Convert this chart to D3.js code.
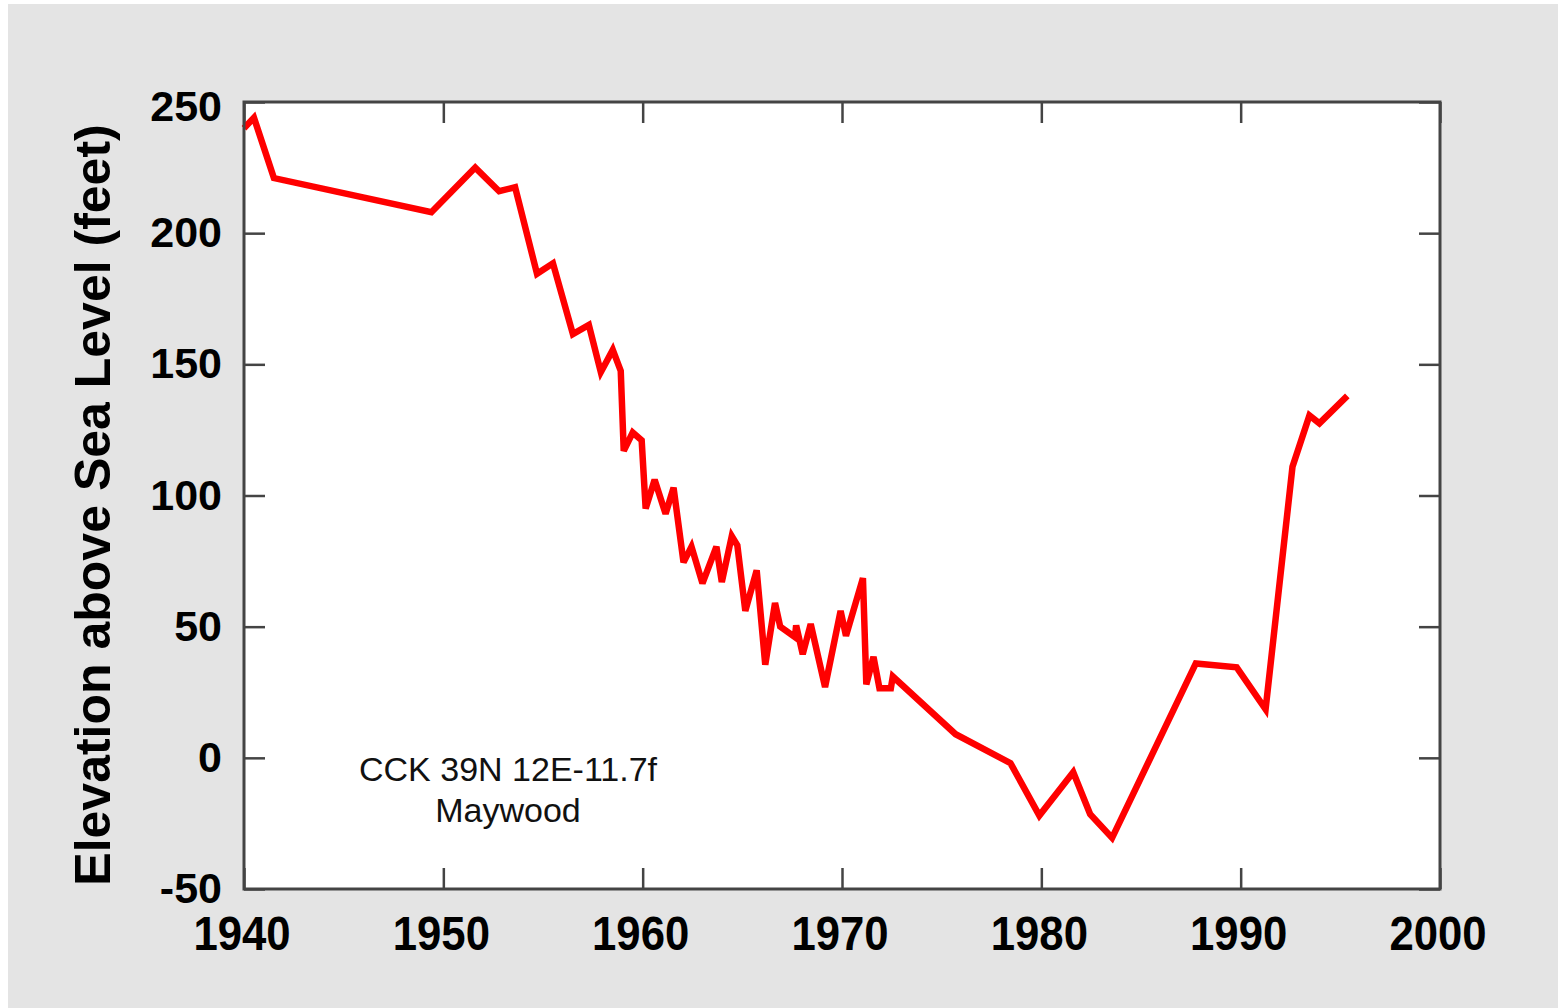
<!DOCTYPE html>
<html>
<head>
<meta charset="utf-8">
<script src="https://cdn.jsdelivr.net/npm/d3@7"></script>
<style>
  html, body { margin: 0; padding: 0; background: #fff; }
  #chart { width: 1558px; height: 1008px; }
</style>
</head>
<body>
<div id="chart"></div>
<script>
// well hydrograph
const years = [
  1940.0, 1940.5, 1941.5, 1949.4, 1951.6, 1952.8, 1953.6, 1954.7, 1955.5,
  1956.5, 1957.3, 1957.9, 1958.5, 1958.9, 1959.05, 1959.5, 1959.95, 1960.15,
  1960.6, 1961.15, 1961.55, 1962.05, 1962.45, 1963.0, 1963.7, 1963.97, 1964.47,
  1964.75, 1965.15, 1965.72, 1966.15, 1966.64, 1966.9, 1967.64, 1967.7, 1968.03,
  1968.43, 1969.15, 1969.93, 1970.2, 1971.05, 1971.22, 1971.58, 1971.88, 1972.45,
  1972.55, 1975.7, 1978.45, 1979.9, 1981.6, 1982.45, 1983.55, 1987.75, 1989.8,
  1991.25, 1992.6, 1993.45, 1993.95, 1995.35
];
const elevations = [
  240, 244, 221, 208, 225, 216, 217.5, 184.5, 188.5,
  161.5, 165, 147, 155.5, 147.5, 117, 124, 121, 95,
  106, 93, 103, 74.5, 80.5, 66.5, 80.5, 67, 84.5,
  81, 56, 71.5, 35.5, 59, 50, 46, 50.5, 39.5,
  51, 27, 56, 46.5, 68.5, 28, 38.5, 26.5, 26.5,
  31, 9, -2, -22, -5.5, -21.5, -30.5, 36, 34.5,
  18.5, 111, 130.5, 127.5, 138
];
const xTicks = [1940, 1950, 1960, 1970, 1980, 1990, 2000];
const yTicks = [-50, 0, 50, 100, 150, 200, 250];
const yTitle = "Elevation above Sea Level (feet)";
const noteLines = ["CCK 39N 12E-11.7f", "Maywood"];

const data = years.map((y, i) => ({year: y, elev: elevations[i]}));

const width = 1558, height = 1008;
const plot = {left: 244, right: 1440, top: 102, bottom: 889};

const svg = d3.select("#chart")
  .append("svg")
  .attr("width", width)
  .attr("height", height);

// grey page, white plot box
svg.append("rect")
  .attr("x", 8).attr("y", 4)
  .attr("width", width - 8).attr("height", height - 4)
  .attr("fill", "#e4e4e4");

svg.append("rect")
  .attr("x", plot.left).attr("y", plot.top)
  .attr("width", plot.right - plot.left)
  .attr("height", plot.bottom - plot.top)
  .attr("fill", "#fff");

const x = d3.scaleLinear().domain([1940, 2000]).range([plot.left, plot.right]);
const y = d3.scaleLinear().domain([-50, 250]).range([plot.bottom, plot.top]);

const tickLen = 21;
const tickColor = "#444";

// inner ticks on all four sides
const axisStyle = g => {
  g.select(".domain").remove();
  g.selectAll(".tick line").attr("stroke", tickColor).attr("stroke-width", 2.5);
};

svg.append("g")
  .attr("transform", `translate(0, ${plot.bottom})`)
  .call(d3.axisBottom(x).tickValues(xTicks).tickSize(-tickLen).tickFormat(""))
  .call(axisStyle);

svg.append("g")
  .attr("transform", `translate(0, ${plot.top})`)
  .call(d3.axisTop(x).tickValues(xTicks).tickSize(-tickLen).tickFormat(""))
  .call(axisStyle);

svg.append("g")
  .attr("transform", `translate(${plot.left}, 0)`)
  .call(d3.axisLeft(y).tickValues(yTicks).tickSize(-tickLen).tickFormat(""))
  .call(axisStyle);

svg.append("g")
  .attr("transform", `translate(${plot.right}, 0)`)
  .call(d3.axisRight(y).tickValues(yTicks).tickSize(-tickLen).tickFormat(""))
  .call(axisStyle);

// tick labels
svg.append("g")
  .selectAll("text")
  .data(xTicks)
  .enter()
  .append("text")
    .attr("transform", d => `translate(${x(d) - 2}, 950) scale(0.95, 1.05)`)
    .attr("text-anchor", "middle")
    .attr("font-family", "Liberation Sans, Arial, sans-serif")
    .attr("font-weight", "bold")
    .attr("font-size", "46px")
    .attr("fill", "#000")
    .text(d => d);

svg.append("g")
  .selectAll("text")
  .data(yTicks)
  .enter()
  .append("text")
    .attr("x", 222)
    .attr("y", d => y(d) + (d === 250 ? 19 : 14))
    .attr("text-anchor", "end")
    .attr("font-family", "Liberation Sans, Arial, sans-serif")
    .attr("font-weight", "bold")
    .attr("font-size", "43px")
    .attr("fill", "#000")
    .text(d => d);

// axis title
svg.append("text")
  .attr("transform", "translate(110, 505) rotate(-90)")
  .attr("text-anchor", "middle")
  .attr("font-family", "Liberation Sans, Arial, sans-serif")
  .attr("font-weight", "bold")
  .attr("font-size", "50px")
  .attr("fill", "#000")
  .text(yTitle);

// well label
svg.append("g")
  .selectAll("text")
  .data(noteLines)
  .enter()
  .append("text")
    .attr("x", 508)
    .attr("y", (d, i) => 781 + i * 41)
    .attr("text-anchor", "middle")
    .attr("font-family", "Liberation Sans, Arial, sans-serif")
    .attr("font-size", "34px")
    .attr("fill", "#111")
    .text(d => d);

// the water level line
const line = d3.line()
  .x(d => x(d.year))
  .y(d => y(d.elev));

svg.append("path")
  .datum(data)
  .attr("d", line)
  .attr("fill", "none")
  .attr("stroke", "#ff0000")
  .attr("stroke-width", 6.5)
  .attr("stroke-linejoin", "miter")
  .attr("stroke-miterlimit", 3);

// frame on top
svg.append("rect")
  .attr("x", plot.left).attr("y", plot.top)
  .attr("width", plot.right - plot.left)
  .attr("height", plot.bottom - plot.top)
  .attr("fill", "none")
  .attr("stroke", "#444")
  .attr("stroke-width", 3);
</script>
</body>
</html>
